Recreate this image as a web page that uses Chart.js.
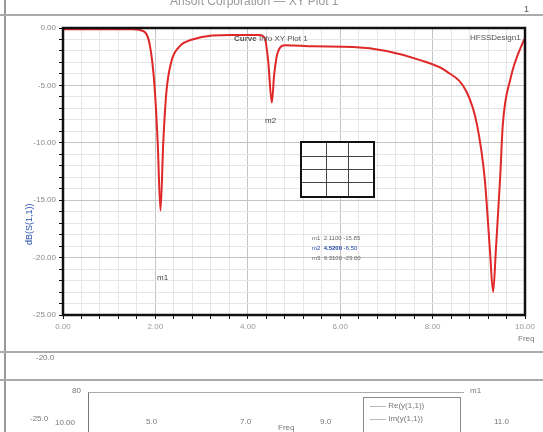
<!DOCTYPE html>
<html>
<head>
<meta charset="utf-8">
<script src="https://cdn.jsdelivr.net/npm/chart.js@4"></script>
<style>
  body { margin: 0; background: #fff; font-family: "Liberation Sans", Arial, sans-serif; }
  #wrap { position: relative; width: 543px; height: 432px; overflow: hidden; }
  #box { position: absolute; left: 0; top: 0; width: 543px; height: 432px; }
  .t { position: absolute; color: #777; font-size: 8px; white-space: nowrap; }
  .hl { position: absolute; left: 0; width: 543px; height: 0; border-top: 2px solid #aaa; }
  table.ci { position: absolute; left: 300px; top: 141px; width: 75px; height: 57px; border: 2px solid #111; border-collapse: collapse; background: #fff; }
  table.ci td { border: 1px solid #444; }
</style>
</head>
<body>
<div id="wrap">
  <div id="box"><canvas id="myChart" width="543" height="432"></canvas></div>

  <!-- window frame bits around the plot -->
  <div style="position:absolute;left:4px;top:0;width:2px;height:432px;background:#999"></div>
  <div class="hl" style="top:14px"></div>
  <div class="hl" style="top:351px"></div>
  <div class="hl" style="top:379px"></div>
  <div class="t" style="left:170px;top:-6px;font-size:12px;color:#999">Ansoft Corporation — XY Plot 1</div>
  <div class="t" style="left:524px;top:4px;font-size:9px;color:#555">1</div>

  <!-- plot annotations -->
  <div class="t" style="left:234px;top:34px;color:#555"><b>Curve</b> Info XY Plot 1</div>
  <div class="t" style="left:470px;top:33px;color:#555">HFSSDesign1</div>
  <div class="t" style="left:157px;top:273px;color:#444">m1</div>
  <div class="t" style="left:265px;top:116px;color:#444">m2</div>
  <table class="ci">
    <tr><td></td><td></td><td></td></tr>
    <tr><td></td><td></td><td></td></tr>
    <tr><td></td><td></td><td></td></tr>
    <tr><td></td><td></td><td></td></tr>
  </table>
  <div class="t" style="left:312px;top:235px;font-size:6px;color:#666">m1 &nbsp;2.1100 -15.85</div>
  <div class="t" style="left:312px;top:245px;font-size:6px;color:#2244aa">m2 &nbsp;<b>4.5200</b> -6.50</div>
  <div class="t" style="left:312px;top:255px;font-size:6px;color:#666">m3 &nbsp;9.3100 -23.00</div>
  <div class="t" style="left:24px;top:245px;transform:rotate(-90deg);transform-origin:left top;color:#2850b0;font-size:9px">dB(S(1,1))</div>
  <div class="t" style="left:518px;top:334px;color:#777">Freq</div>

  <!-- strip between panes -->
  <div class="t" style="left:36px;top:353px">-20.0</div>

  <!-- top of the next plot, cut off -->
  <div style="position:absolute;left:88px;top:392px;width:375px;height:60px;border-top:1px solid #aaa;border-left:1px solid #777"></div>
  <div class="t" style="left:72px;top:386px">80</div>
  <div class="t" style="left:470px;top:386px">m1</div>
  <div class="t" style="left:30px;top:414px">-25.0</div>
  <div class="t" style="left:55px;top:418px">10.00</div>
  <div class="t" style="left:146px;top:417px">5.0</div>
  <div class="t" style="left:240px;top:417px">7.0</div>
  <div class="t" style="left:278px;top:423px">Freq</div>
  <div class="t" style="left:320px;top:417px">9.0</div>
  <div class="t" style="left:494px;top:417px">11.0</div>
  <div style="position:absolute;left:363px;top:397px;width:96px;height:40px;border:1px solid #888;background:#fff"></div>
  <div class="t" style="left:370px;top:401px">—— Re(y(1,1))</div>
  <div class="t" style="left:370px;top:414px">—— Im(y(1,1))</div>
</div>

<script>
// frequency sweep (GHz) and return loss (dB)
const freqs = [0, 1.5, 1.75, 1.88, 1.98, 2.05, 2.11, 2.17, 2.24, 2.34, 2.5, 2.8, 3.66, 4.26, 4.37, 4.44, 4.52,
  4.57, 4.65, 4.81, 5.43, 6.28, 7.0, 7.73, 8.31, 8.74, 8.96, 9.13, 9.24, 9.31, 9.37, 9.46, 9.52, 9.68, 9.96, 10.0];
const s11 = [-0.1, -0.1, -0.3, -1.5, -5.0, -10.0, -15.9, -10.0, -5.5, -3.0, -1.7, -1.0, -0.6, -0.6, -0.9, -2.8, -6.5,
  -4.1, -2.1, -1.5, -1.6, -1.65, -2.0, -2.8, -3.8, -5.6, -8.4, -13.2, -19.3, -23.0, -19.3, -13.2, -8.4, -4.5, -1.2, -0.9];
const xTicks = [0, 2, 4, 6, 8, 10];
const yTicks = [0, -5, -10, -15, -20, -25];

const isMajor = (v, list) => list.some(t => Math.abs(t - v) < 1e-6);

// black frame around the plot area
const frame = {
  id: 'frame',
  afterDraw(c) {
    const a = c.chartArea, g = c.ctx;
    g.save();
    g.strokeStyle = '#111';
    g.lineWidth = 2.5;
    g.strokeRect(a.left, a.top, a.right - a.left, a.bottom - a.top);
    g.restore();
  }
};

let myChart = document.getElementById('myChart').getContext('2d');
let chart = new Chart(myChart, {
  type: 'line',
  data: {
    datasets: [{
      label: 'dB(S(1,1))',
      data: freqs.map((f, i) => ({ x: f, y: s11[i] })),
      borderColor: '#e02828',
      borderWidth: 2,
      pointRadius: 0,
      cubicInterpolationMode: 'monotone',
      fill: false
    }]
  },
  options: {
    responsive: false,
    animation: false,
    layout: { padding: { left: 0, right: 18, top: 28, bottom: 87 } },
    plugins: { legend: { display: false }, tooltip: { enabled: false } },
    scales: {
      x: {
        type: 'linear', min: 0, max: 10,
        afterFit(s) { s.height = 30; },
        afterBuildTicks(s) { s.ticks = []; for (let i = 0; i <= 25; i++) s.ticks.push({ value: i * 0.4 }); },
        ticks: {
          autoSkip: false, maxRotation: 0, color: '#999', font: { size: 8 },
          callback: v => isMajor(v, xTicks) ? v.toFixed(2) : ''
        },
        grid: {
          color: c => isMajor(c.tick.value, xTicks) ? '#c4c4c4' : '#e6e6e6',
          tickColor: '#111', tickLength: 4
        },
        border: { color: '#111', width: 2 }
      },
      y: {
        min: -25, max: 0,
        afterFit(s) { s.width = 63; },
        afterBuildTicks(s) { s.ticks = []; for (let i = 0; i <= 25; i++) s.ticks.push({ value: -i }); },
        ticks: {
          autoSkip: false, color: '#888', font: { size: 8 },
          callback: v => isMajor(v, yTicks) ? v.toFixed(2) : ''
        },
        grid: {
          color: c => isMajor(c.tick.value, yTicks) ? '#c4c4c4' : '#e6e6e6',
          tickColor: '#111', tickLength: 4
        },
        border: { color: '#111', width: 2 }
      }
    }
  },
  plugins: [frame]
});
</script>
</body>
</html>
